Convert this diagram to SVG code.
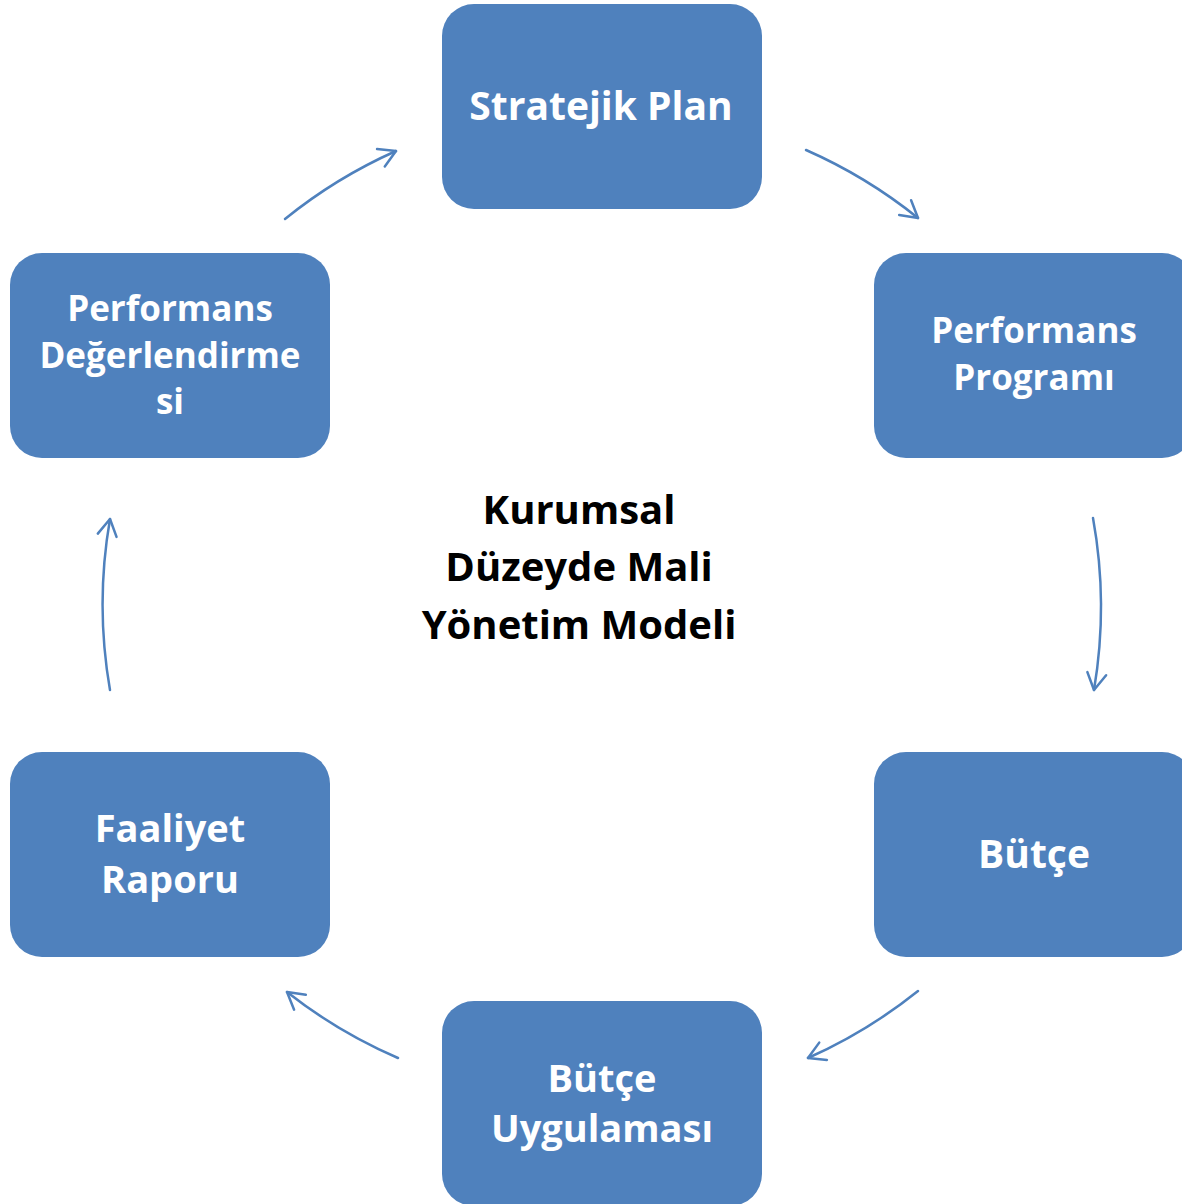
<svg xmlns="http://www.w3.org/2000/svg" width="1182" height="1204" viewBox="0 0 1182 1204">
<style>
.box{fill:#4F81BD;}
.lbl{font-family:"Open Sans","Liberation Sans",sans-serif;font-weight:bold;fill:#FFFFFF;text-anchor:middle;}
.ctr{font-family:"Open Sans","Liberation Sans",sans-serif;font-weight:bold;fill:#000000;text-anchor:middle;font-size:40px;}
.arc{fill:none;stroke:#4F81BD;stroke-width:2.5;stroke-linecap:round;marker-end:url(#ah);}
</style>
<defs>
<marker id="ah" markerUnits="userSpaceOnUse" markerWidth="40" markerHeight="40" viewBox="-20 -20 40 40" refX="0" refY="0" orient="auto" overflow="visible">
<path d="M-16.5,-9.5 L0,0 L-16.5,9.5" fill="none" stroke="#4F81BD" stroke-width="2.5" stroke-linecap="round" stroke-linejoin="round"/>
</marker>
</defs>
<rect width="1182" height="1204" fill="#FFFFFF"/>
<g id="connectors">
<path class="arc" d="M806,150 A499,499 0 0 1 918,218"/>
<path class="arc" d="M1093,518 A499,499 0 0 1 1094,690"/>
<path class="arc" d="M918,991 A499,499 0 0 1 808,1058"/>
<path class="arc" d="M398,1058 A499,499 0 0 1 287,992"/>
<path class="arc" d="M110,690 A499,499 0 0 1 110,519"/>
<path class="arc" d="M285,219 A499,499 0 0 1 396,151"/>
</g>
<g id="stratejik-plan">
<rect class="box" x="442" y="4" width="320" height="205" rx="32"/>
<text class="lbl" x="601" y="120" font-size="39">Stratejik Plan</text>
</g>
<g id="performans-programi">
<rect class="box" x="874" y="253" width="320" height="205" rx="32"/>
<text class="lbl" x="1034" y="343" font-size="35">Performans</text>
<text class="lbl" x="1034" y="390" font-size="35">Programı</text>
</g>
<g id="butce">
<rect class="box" x="874" y="752" width="320" height="205" rx="32"/>
<text class="lbl" x="1034" y="868" font-size="39">Bütçe</text>
</g>
<g id="butce-uygulamasi">
<rect class="box" x="442" y="1001" width="320" height="205" rx="32"/>
<text class="lbl" x="602" y="1092" font-size="38">Bütçe</text>
<text class="lbl" x="602" y="1142" font-size="38">Uygulaması</text>
</g>
<g id="faaliyet-raporu">
<rect class="box" x="10" y="752" width="320" height="205" rx="32"/>
<text class="lbl" x="170" y="842" font-size="38">Faaliyet</text>
<text class="lbl" x="170" y="893" font-size="38">Raporu</text>
</g>
<g id="performans-degerlendirmesi">
<rect class="box" x="10" y="253" width="320" height="205" rx="32"/>
<text class="lbl" x="170" y="321" font-size="35">Performans</text>
<text class="lbl" x="170" y="368" font-size="35">Değerlendirme</text>
<text class="lbl" x="170" y="414" font-size="35">si</text>
</g>
<g id="center-title">
<text class="ctr" x="579" y="524">Kurumsal</text>
<text class="ctr" x="579" y="581">Düzeyde Mali</text>
<text class="ctr" x="579" y="639">Yönetim Modeli</text>
</g>
</svg>
